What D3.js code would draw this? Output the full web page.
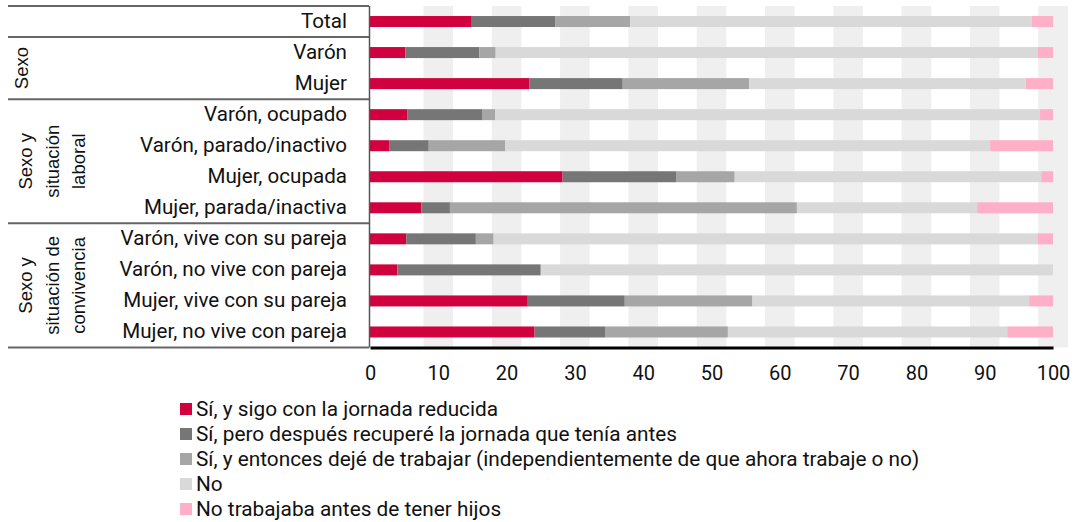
<!DOCTYPE html>
<html>
<head>
<meta charset="utf-8">
<script src="https://cdn.jsdelivr.net/npm/d3@7"></script>
<style>
  body { margin: 0; background: #fff; }
  svg { display: block; }
  text { font-family: Roboto, "Noto Sans", sans-serif; fill: #111; }
</style>
</head>
<body>
<div id="chart"></div>
<script>
const width = 1080;
const height = 522;

const categories = [
    "Total",
    "Varón", "Mujer",
    "Varón, ocupado", "Varón, parado/inactivo", "Mujer, ocupada", "Mujer, parada/inactiva",
    "Varón, vive con su pareja", "Varón, no vive con pareja", "Mujer, vive con su pareja", "Mujer, no vive con pareja"
];

const seriesNames = [
    "Sí, y sigo con la jornada reducida",
    "Sí, pero después recuperé la jornada que tenía antes",
    "Sí, y entonces dejé de trabajar (independientemente de que ahora trabaje o no)",
    "No",
    "No trabajaba antes de tener hijos"
];
const seriesColors = ["#d1003f", "#767676", "#a6a6a6", "#d9d9d9", "#ffb0c7"];

const reducida =   [14.9, 5.2, 23.3, 5.5, 2.8, 28.2, 7.5, 5.3, 4.0, 23.1, 24.1];
const recupere =   [12.2, 10.8, 13.7, 10.9, 5.8, 16.6, 4.2, 10.2, 21.0, 14.2, 10.4];
const dejeTrabajo = [11.0, 2.4, 18.5, 1.9, 11.2, 8.6, 50.8, 2.6, 0.0, 18.7, 17.9];
const no =         [58.8, 79.4, 40.5, 79.8, 71.0, 44.9, 26.4, 79.6, 75.0, 40.5, 40.9];
const noTrabajaba = [3.1, 2.2, 4.0, 1.9, 9.2, 1.7, 11.1, 2.3, 0.0, 3.5, 6.7];

const xTicks = [0, 10, 20, 30, 40, 50, 60, 70, 80, 90, 100];

// grupos de filas: etiqueta (líneas), primera y última fila
const groups = [
    { lines: ["Sexo"], from: 1, to: 2, x0: 22 },
    { lines: ["Sexo y", "situación", "laboral"], from: 3, to: 6, x0: 26 },
    { lines: ["Sexo y", "situación de", "convivencia"], from: 7, to: 10, x0: 26 }
];

const table = categories.map((c, i) => ({
    cat: c,
    s0: reducida[i], s1: recupere[i], s2: dejeTrabajo[i], s3: no[i], s4: noTrabajaba[i]
}));
const keys = ["s0", "s1", "s2", "s3", "s4"];

const svg = d3.select("#chart").append("svg")
    .attr("width", width)
    .attr("height", height);

const plotTop = 6, plotBottom = 347.5;
const xScale = d3.scaleLinear().domain([0, 100]).range([370, 1053]);
const yScale = d3.scaleBand().domain(categories).range([plotTop, plotBottom]);
const barH = 11;

// franjas grises de fondo
svg.append("g").selectAll("rect")
    .data(xTicks.filter(t => t > 0))
    .join("rect")
    .attr("x", d => xScale(d) - 14.8)
    .attr("y", plotTop)
    .attr("width", 29.6)
    .attr("height", plotBottom - plotTop)
    .attr("fill", "#efefef");

// barras apiladas
const stacked = d3.stack().keys(keys)(table);
svg.append("g").selectAll("g")
    .data(stacked)
    .join("g")
    .attr("fill", (d, i) => seriesColors[i])
    .selectAll("rect")
    .data(d => d)
    .join("rect")
    .attr("x", d => xScale(d[0]))
    .attr("y", d => yScale(d.data.cat) + (yScale.bandwidth() - barH) / 2)
    .attr("width", d => xScale(d[1]) - xScale(d[0]))
    .attr("height", barH);

// etiquetas de categoría
svg.append("g").selectAll("text")
    .data(categories)
    .join("text")
    .attr("x", 347)
    .attr("y", d => yScale(d) + yScale.bandwidth() / 2 - 1)
    .attr("dy", "0.35em")
    .attr("text-anchor", "end")
    .style("font-size", "20.6px")
    .text(d => d);

// líneas separadoras
const sepY = [plotTop, yScale(categories[1]), yScale(categories[3]), yScale(categories[7]), plotBottom];
svg.append("g").selectAll("line")
    .data(sepY)
    .join("line")
    .attr("x1", 8).attr("x2", 369)
    .attr("y1", d => d).attr("y2", d => d)
    .attr("stroke", "#666")
    .attr("stroke-width", 2);

svg.append("line")
    .attr("x1", 369.5).attr("x2", 369.5)
    .attr("y1", plotTop).attr("y2", plotBottom)
    .attr("stroke", "#555")
    .attr("stroke-width", 1.5);

// etiquetas de grupo (rotadas)
groups.forEach(g => {
    const cy = (yScale(categories[g.from]) + yScale(categories[g.to]) + yScale.bandwidth()) / 2;
    g.lines.forEach((line, j) => {
        svg.append("text")
            .attr("transform", `translate(${g.x0 + j * 26.5},${cy}) rotate(-90)`)
            .attr("text-anchor", "middle")
            .attr("dy", "0.35em")
            .style("font-family", "'Liberation Sans', Arial, sans-serif")
            .style("font-size", "18.5px")
            .text(line);
    });
});

// eje inferior
const xAxis = svg.append("g")
    .attr("transform", `translate(0,${plotBottom})`)
    .call(d3.axisBottom(xScale).tickValues(xTicks).tickSize(0).tickPadding(18));
xAxis.select(".domain").attr("stroke", "#000").attr("stroke-width", 3);
xAxis.selectAll("text")
    .style("font-family", "Roboto, sans-serif")
    .style("font-size", "20px")
    .attr("fill", "#111");

// leyenda
const legend = svg.append("g").selectAll("g")
    .data(seriesNames)
    .join("g")
    .attr("transform", (d, i) => `translate(180,${409 + i * 25})`);
legend.append("rect")
    .attr("x", 0).attr("y", -6)
    .attr("width", 12).attr("height", 12)
    .attr("fill", (d, i) => seriesColors[i]);
legend.append("text")
    .attr("x", 16)
    .attr("dy", "0.35em")
    .style("font-size", "20.8px")
    .text(d => d);
</script>
</body>
</html>
